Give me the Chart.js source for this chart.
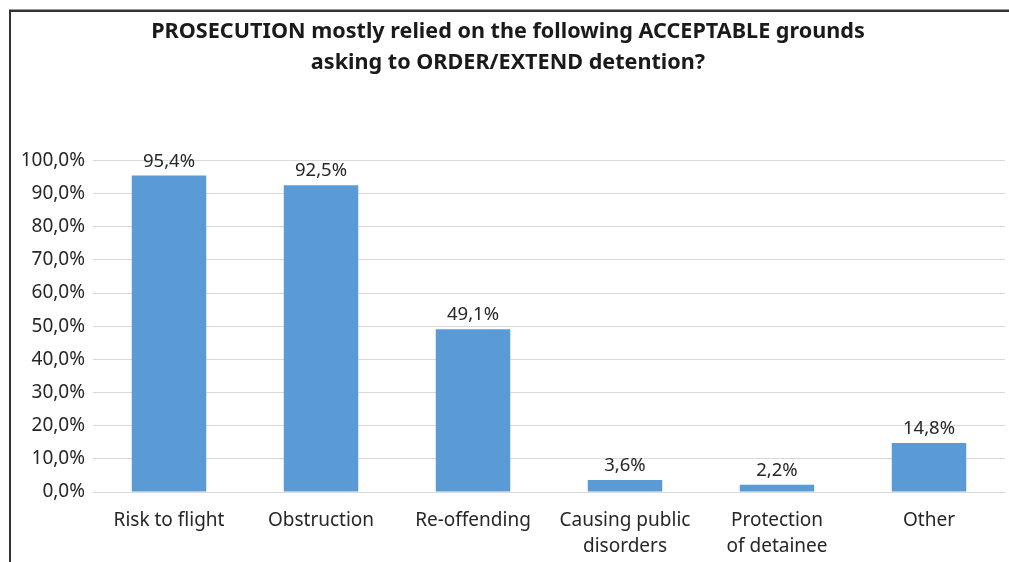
<!DOCTYPE html>
<html><head><meta charset="utf-8">
<script src="https://cdn.jsdelivr.net/npm/chart.js@4.4.1/dist/chart.umd.min.js"></script>
<style>
html,body{margin:0;padding:0;background:#fff;overflow:hidden;width:1009px;height:562px;}
canvas{display:block;}
</style></head><body>
<canvas id="c" width="1009" height="562"></canvas>
<script>
const categories = [["Risk to flight"],["Obstruction"],["Re-offending"],["Causing public","disorders"],["Protection","of detainee"],["Other"]];
const values = [95.4, 92.5, 49.1, 3.6, 2.2, 14.8];
const titleLines = ["PROSECUTION mostly relied on the following ACCEPTABLE grounds","asking to ORDER/EXTEND detention?"];
const FONT = "'Noto Sans', sans-serif";
const fmt = v => v.toFixed(1).replace('.', ',') + '%';

const framePlugin = {
  id: 'frame',
  beforeDraw(chart){
    const ctx = chart.ctx;
    ctx.save();
    ctx.fillStyle = '#fff';
    ctx.fillRect(0, 0, chart.width, chart.height);
    ctx.strokeStyle = '#999';
    ctx.lineWidth = 1;
    ctx.beginPath(); ctx.moveTo(9, 9.5); ctx.lineTo(chart.width, 9.5); ctx.stroke();
    ctx.strokeStyle = '#333';
    ctx.lineWidth = 2;
    ctx.beginPath(); ctx.moveTo(9, 11); ctx.lineTo(chart.width, 11); ctx.stroke();
    ctx.beginPath(); ctx.moveTo(10, 10); ctx.lineTo(10, chart.height); ctx.stroke();
    ctx.restore();
  }
};

const labelPlugin = {
  id: 'barLabels',
  afterDatasetsDraw(chart){
    const ctx = chart.ctx;
    const meta = chart.getDatasetMeta(0);
    ctx.save();
    ctx.font = "18.5px " + FONT;
    ctx.fillStyle = '#262626';
    ctx.textAlign = 'center';
    ctx.textBaseline = 'alphabetic';
    meta.data.forEach((bar, i) => {
      ctx.fillText(fmt(values[i]), bar.x, bar.y - 9);
    });
    ctx.restore();
  }
};

new Chart(document.getElementById('c'), {
  type: 'bar',
  data: {
    labels: categories,
    datasets: [{ data: values, backgroundColor: '#5b9bd5', barPercentage: 0.49, categoryPercentage: 1.0 }]
  },
  options: {
    responsive: false, animation: false,
    layout: { padding: { left: 11, right: 4, top: 11, bottom: 3 } },
    plugins: {
      legend: { display: false }, tooltip: { enabled: false },
      title: { display: true, text: titleLines, color: '#1a1a1a',
        font: { family: FONT, size: 21.6, weight: 'bold', lineHeight: 1.42 },
        padding: { top: 6, bottom: 82 } }
    },
    scales: {
      x: { grid: { display: false }, border: { display: true, color: '#d9d9d9' },
        afterFit: s => { s.height = 67; },
        ticks: { color: '#262626', font: { family: FONT, size: 19, lineHeight: 1.37 }, padding: 8, maxRotation: 0, autoSkip: false } },
      y: { min: 0, max: 100, grid: { color: '#d9d9d9', drawTicks: false }, border: { display: false },
        afterFit: s => { s.width = 82; },
        ticks: { stepSize: 10, color: '#262626', font: { family: FONT, size: 19 }, padding: 8, callback: v => fmt(v) } }
    }
  },
  plugins: [framePlugin, labelPlugin]
});
</script>
</body></html>
